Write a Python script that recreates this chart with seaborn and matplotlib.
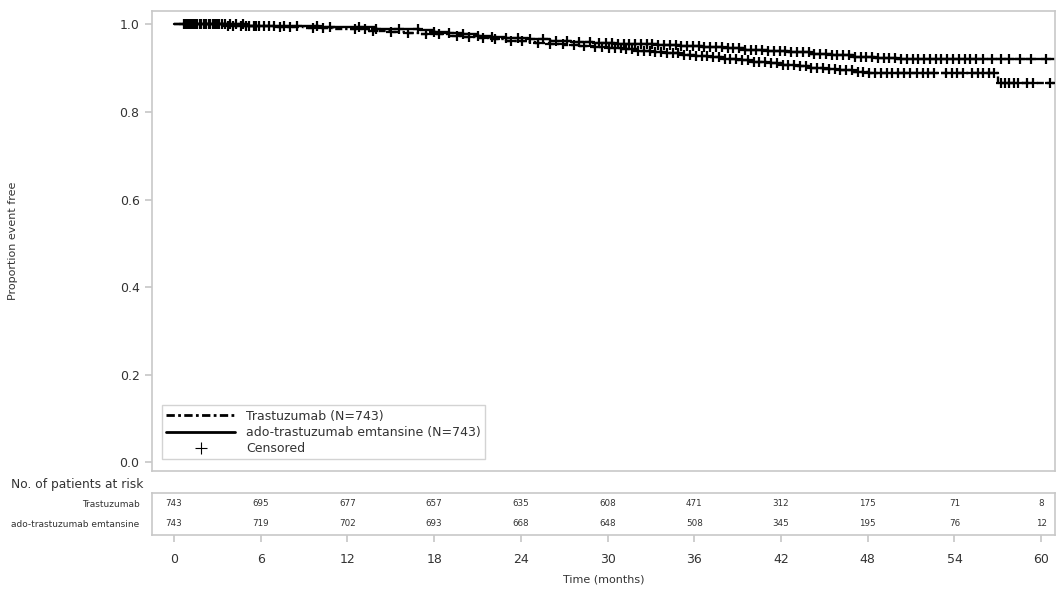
import numpy as np
import pandas as pd
import matplotlib
matplotlib.use("Agg")
import matplotlib.pyplot as plt
from matplotlib.lines import Line2D
import seaborn as sns

# Kaplan-Meier steps
tras_time = [0, 3.5, 7, 9, 11, 13.5, 15, 16, 17, 19, 20, 21, 22, 23, 24.5, 25, 26, 27,
             28, 29, 30, 31, 32, 33, 34, 35, 36, 37, 38, 39, 40, 41, 42, 43, 44, 45,
             46, 47, 48, 49, 57, 61]
tras_surv = [1.0, 0.997, 0.994, 0.992, 0.99, 0.985, 0.982, 0.98, 0.977, 0.974, 0.971,
             0.968, 0.966, 0.963, 0.96, 0.958, 0.956, 0.953, 0.95, 0.948, 0.946, 0.943,
             0.94, 0.937, 0.934, 0.931, 0.928, 0.925, 0.922, 0.918, 0.915, 0.911,
             0.908, 0.904, 0.901, 0.898, 0.895, 0.892, 0.89, 0.888, 0.866, 0.866]
tdm1_time = [0, 5, 10, 14, 17, 18, 19, 20, 21, 22, 23, 24.5, 26, 27.5, 29, 30.5, 32,
             33.5, 35, 36.5, 38, 39.5, 41, 42.5, 44, 45.5, 47, 48.5, 50, 61]
tdm1_surv = [1.0, 0.997, 0.994, 0.99, 0.986, 0.983, 0.98, 0.977, 0.974, 0.971, 0.968,
             0.966, 0.963, 0.96, 0.958, 0.956, 0.954, 0.952, 0.95, 0.948, 0.945, 0.942,
             0.939, 0.936, 0.932, 0.929, 0.926, 0.923, 0.921, 0.921]

# censoring times
tras_cens = [0.7, 0.9, 1.1, 1.3, 1.5, 1.8, 2.1, 2.4, 2.7, 3.0, 3.3, 3.7, 4.1, 4.6, 5.0,
             5.5, 5.9, 6.6, 7.3, 8.0, 9.6, 10.3, 12.5, 13.2, 13.8, 15.0, 16.2, 17.4,
             18.3, 19.6, 20.4, 21.4, 22.2, 23.3, 24.1, 25.2, 26.0, 26.9, 27.7, 28.4,
             29.1, 29.6, 30.1, 30.5, 30.9, 31.3, 31.7, 32.1, 32.5, 32.9, 33.3, 33.7,
             34.1, 34.5, 34.9, 35.3, 35.7, 36.1, 36.5, 36.9, 37.3, 37.7, 38.1, 38.5,
             38.9, 39.3, 39.7, 40.1, 40.5, 40.9, 41.3, 41.7, 42.1, 42.5, 42.9, 43.3,
             43.7, 44.1, 44.5, 44.9, 45.3, 45.7, 46.1, 46.5, 46.9, 47.3, 47.7, 48.1,
             48.5, 48.9, 49.3, 49.7, 50.1, 50.5, 50.9, 51.4, 51.8, 52.2, 52.6, 53.4,
             53.8, 54.2, 54.6, 55.2, 55.6, 56.0, 56.4, 56.7, 57.2, 57.5, 57.8, 58.1,
             58.4, 59.0, 59.4, 60.6]
tdm1_cens = [0.8, 1.0, 1.2, 1.4, 1.6, 1.9, 2.2, 2.5, 2.8, 3.1, 3.5, 3.9, 4.3, 4.8, 5.2,
             5.7, 6.2, 6.9, 7.6, 8.5, 9.9, 10.8, 12.8, 14.0, 15.6, 16.9, 18.0, 19.0,
             20.0, 21.0, 22.0, 23.0, 23.8, 24.6, 25.5, 26.4, 27.2, 28.0, 28.8, 29.4,
             29.9, 30.3, 30.7, 31.1, 31.5, 31.9, 32.3, 32.7, 33.1, 33.5, 33.9, 34.3,
             34.7, 35.1, 35.5, 35.9, 36.3, 36.7, 37.1, 37.5, 37.9, 38.3, 38.7, 39.1,
             39.5, 39.9, 40.3, 40.7, 41.1, 41.5, 41.9, 42.3, 42.7, 43.1, 43.5, 43.9,
             44.3, 44.7, 45.1, 45.5, 45.9, 46.3, 46.7, 47.1, 47.5, 47.9, 48.3, 48.7,
             49.1, 49.5, 49.9, 50.3, 50.7, 51.1, 51.5, 51.9, 52.3, 52.7, 53.1, 53.5,
             53.9, 54.3, 54.7, 55.1, 55.5, 56.0, 56.6, 57.2, 57.8, 58.5, 59.3, 60.3]

# numbers at risk
risk_months = [0, 6, 12, 18, 24, 30, 36, 42, 48, 54, 60]
risk_tras = [743, 695, 677, 657, 635, 608, 471, 312, 175, 71, 8]
risk_tdm1 = [743, 719, 702, 693, 668, 648, 508, 345, 195, 76, 12]
arm_labels = ["Trastuzumab", "ado-trastuzumab emtansine"]


def surv_at(times, surv, t):
    idx = np.searchsorted(times, t, side="right") - 1
    return np.array(surv)[idx]


sns.set_theme(style="white")
plt.rcParams["font.family"] = ["DejaVu Sans"]
frame = "#c8c8c8"
txt = "#333333"
dashdot = (0, (3, 1.2, 1, 1.2))

fig = plt.figure(figsize=(10.56, 5.89), dpi=100)
ax = fig.add_axes([0.144, 0.200, 0.855, 0.781])
tab = fig.add_axes([0.144, 0.092, 0.855, 0.071])

km_tras = pd.DataFrame({"t": tras_time, "s": tras_surv})
km_tdm1 = pd.DataFrame({"t": tdm1_time, "s": tdm1_surv})
sns.lineplot(data=km_tras, x="t", y="s", ax=ax, color="black", lw=1.7,
             drawstyle="steps-post", estimator=None, linestyle=dashdot)
sns.lineplot(data=km_tdm1, x="t", y="s", ax=ax, color="black", lw=1.7,
             drawstyle="steps-post", estimator=None)

cens = pd.DataFrame({
    "t": tras_cens + tdm1_cens,
    "s": list(surv_at(tras_time, tras_surv, tras_cens)) +
         list(surv_at(tdm1_time, tdm1_surv, tdm1_cens)),
})
sns.scatterplot(data=cens, x="t", y="s", ax=ax, marker="+", color="black",
                s=60, linewidth=1.6, legend=False, zorder=3)

ax.set_xlim(-1.52, 60.95)
ax.set_ylim(-0.02, 1.03)
ax.set_xticks([])
ax.set_yticks([0, 0.2, 0.4, 0.6, 0.8, 1.0])
ax.set_yticklabels(["0.0", "0.2", "0.4", "0.6", "0.8", "1.0"])
ax.tick_params(axis="y", left=True, length=5, color=frame, labelsize=9,
               labelcolor=txt, pad=4)
ax.set_xlabel("")
ax.set_ylabel("Proportion event free", fontsize=8, color=txt)
ax.yaxis.set_label_coords(-0.148, 0.5)
for sp in ax.spines.values():
    sp.set_color(frame)
    sp.set_linewidth(1.2)

handles = [
    Line2D([], [], color="black", lw=2, linestyle=dashdot),
    Line2D([], [], color="black", lw=2),
    Line2D([], [], color="black", marker="+", lw=0, markersize=9, markeredgewidth=0.8),
]
leg = ax.legend(handles, ["Trastuzumab (N=743)", "ado-trastuzumab emtansine (N=743)",
                          "Censored"],
                loc="lower left", bbox_to_anchor=(0.004, 0.012), fontsize=9,
                frameon=True, fancybox=False, handlelength=5.5, labelspacing=0.25,
                borderpad=0.35, handletextpad=0.9)
leg.get_frame().set_edgecolor(frame)
leg.get_frame().set_linewidth(1.0)
for t in leg.get_texts():
    t.set_color(txt)

# risk table
tab.set_xlim(-1.52, 60.95)
tab.set_ylim(0, 2)
for m, n1, n2 in zip(risk_months, risk_tras, risk_tdm1):
    tab.text(m, 1.5, str(n1), ha="center", va="center", fontsize=6.3, color=txt)
    tab.text(m, 0.55, str(n2), ha="center", va="center", fontsize=6.3, color=txt)
tab.set_yticks([1.5, 0.55])
tab.set_yticklabels(arm_labels)
tab.tick_params(axis="y", left=False, labelsize=6.5, labelcolor=txt, pad=3)
tab.set_xticks(risk_months)
tab.tick_params(axis="x", bottom=True, length=5, color=frame, labelsize=9,
                labelcolor=txt, pad=8, direction="out")
tab.set_xlabel("Time (months)", fontsize=8, color=txt, labelpad=6)
for sp in tab.spines.values():
    sp.set_color(frame)
    sp.set_linewidth(1.2)
fig.text(0.01, 0.177, "No. of patients at risk", fontsize=8.8, color=txt,
         ha="left", va="center")

fig.savefig("out.png", dpi=100, facecolor="white")
